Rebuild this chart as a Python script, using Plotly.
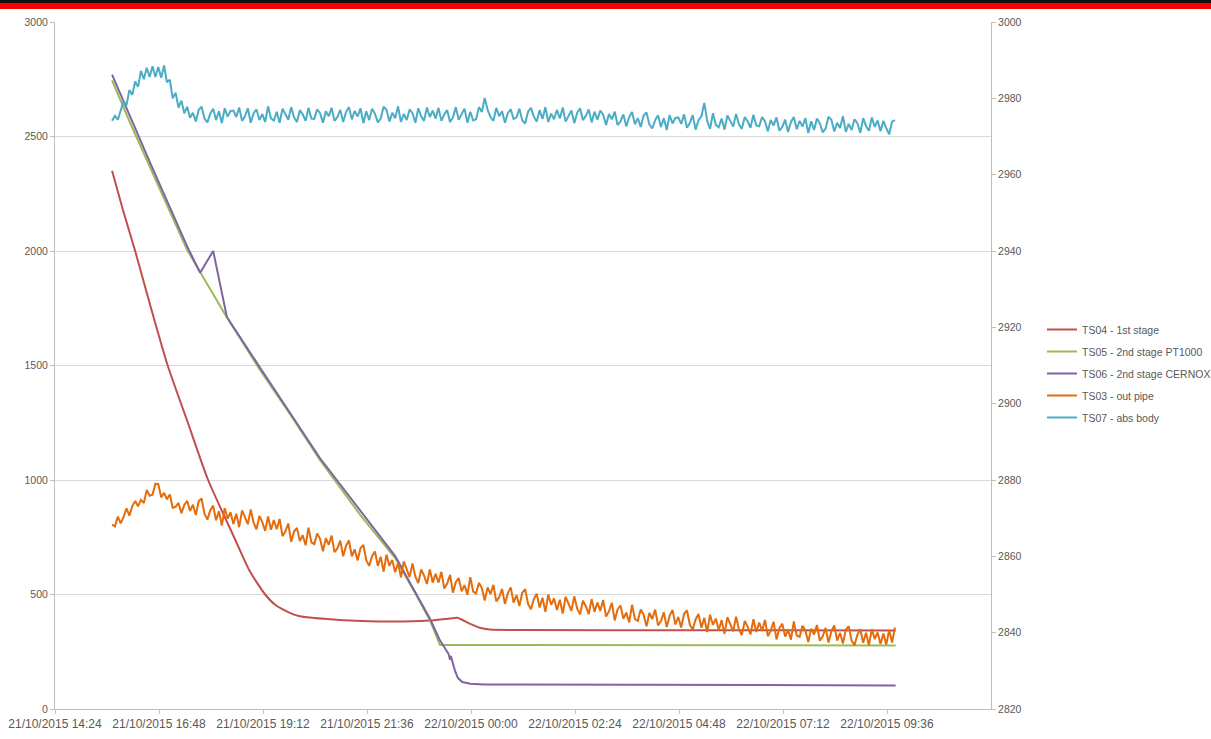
import pandas as pd
import plotly.graph_objects as go

# ---- data ----------------------------------------------------------------
# TS04 - 1st stage
ts04_times = ["2015-10-21 15:43", "2015-10-21 15:58", "2015-10-21 16:15", "2015-10-21 16:37",
              "2015-10-21 17:00", "2015-10-21 17:28", "2015-10-21 17:56", "2015-10-21 18:32",
              "2015-10-21 18:54", "2015-10-21 19:15", "2015-10-21 19:29", "2015-10-21 19:49",
              "2015-10-21 20:03", "2015-10-21 20:45", "2015-10-21 21:54", "2015-10-21 23:03",
              "2015-10-21 23:31", "2015-10-21 23:41", "2015-10-21 23:59", "2015-10-22 00:12",
              "2015-10-22 00:26", "2015-10-22 01:08", "2015-10-22 05:00", "2015-10-22 09:48"]
ts04 = [2350, 2180, 2000, 1750, 1500, 1250, 1000, 750, 600, 500, 455, 420,
        405, 392, 382, 386, 395, 398, 372, 355, 347, 345, 344, 343]

# TS05 - 2nd stage PT1000
ts05_times = ["2015-10-21 15:43", "2015-10-21 16:08", "2015-10-21 16:35", "2015-10-21 17:27",
              "2015-10-21 18:22", "2015-10-21 19:08", "2015-10-21 19:49", "2015-10-21 20:31",
              "2015-10-21 21:26", "2015-10-21 22:15", "2015-10-21 22:42", "2015-10-21 23:03",
              "2015-10-21 23:17", "2015-10-22 09:48"]
ts05 = [2745, 2560, 2370, 2004, 1710, 1480, 1290, 1087, 850, 659, 510, 389, 280, 277]

# TS06 - 2nd stage CERNOX
ts06_times = ["2015-10-21 15:43", "2015-10-21 16:35", "2015-10-21 17:27", "2015-10-21 17:45",
              "2015-10-21 18:03", "2015-10-21 18:22", "2015-10-21 19:08", "2015-10-21 20:31",
              "2015-10-21 22:15", "2015-10-21 23:03", "2015-10-21 23:17", "2015-10-21 23:29",
              "2015-10-21 23:31", "2015-10-21 23:32", "2015-10-21 23:38", "2015-10-21 23:42",
              "2015-10-21 23:48", "2015-10-21 23:59", "2015-10-22 00:19", "2015-10-22 03:00",
              "2015-10-22 09:48"]
ts06 = [2770, 2390, 2020, 1905, 2000, 1712, 1490, 1095, 668, 395, 300, 240,
        215, 232, 165, 135, 118, 110, 107, 106, 103]

# TS03 - out pipe and TS07 - abs body, logged every 4 minutes from 15:43
log_start = "2015-10-21 15:43"
log_step = "4min"
ts03 = [805, 797, 840, 811, 839, 876, 844, 886, 908, 885, 913, 899, 957, 931,
        936, 983, 982, 924, 944, 916, 937, 879, 883, 900, 855, 891, 909, 865,
        892, 847, 907, 919, 852, 827, 868, 888, 824, 864, 801, 877, 831, 859,
        808, 853, 794, 867, 838, 807, 871, 814, 785, 843, 816, 778, 841, 783,
        825, 785, 830, 755, 775, 810, 730, 775, 791, 733, 759, 715, 792, 728,
        720, 766, 743, 689, 746, 717, 757, 685, 701, 735, 667, 713, 736, 667,
        697, 648, 703, 716, 650, 625, 667, 688, 625, 665, 600, 674, 625, 651,
        597, 638, 575, 644, 611, 576, 636, 578, 550, 609, 582, 546, 609, 552,
        590, 552, 599, 526, 548, 586, 508, 555, 572, 514, 541, 499, 576, 513,
        505, 551, 528, 474, 531, 502, 542, 470, 488, 524, 459, 506, 531, 465,
        497, 450, 508, 523, 459, 436, 480, 503, 443, 486, 424, 500, 455, 483,
        432, 477, 417, 490, 460, 429, 492, 438, 413, 473, 449, 414, 480, 424,
        465, 428, 476, 404, 426, 464, 387, 435, 452, 394, 421, 378, 455, 393,
        385, 434, 412, 361, 419, 393, 434, 365, 384, 422, 358, 407, 433, 369,
        402, 356, 415, 431, 368, 347, 391, 415, 355, 398, 336, 412, 367, 395,
        344, 388, 328, 401, 371, 339, 403, 348, 323, 384, 360, 326, 392, 336,
        377, 341, 389, 318, 342, 381, 304, 353, 372, 316, 345, 303, 382, 321,
        315, 364, 343, 292, 351, 325, 367, 298, 317, 354, 290, 339, 365, 299,
        332, 286, 346, 362, 299, 279, 324, 348, 289, 333, 278, 349, 305, 334,
        284, 330, 281, 345, 290, 356]
ts07 = [2974.1, 2975.4, 2974.4, 2977.2, 2979.3, 2978.2, 2982.2, 2980.9, 2984.4, 2983.0, 2987.2, 2985.0, 2988.0, 2985.6,
        2988.4, 2985.6, 2988.2, 2985.4, 2988.6, 2984.2, 2984.9, 2980.0, 2981.5, 2977.6, 2979.4, 2976.1, 2977.8, 2974.9,
        2976.2, 2973.9, 2977.0, 2977.8, 2974.7, 2973.7, 2976.0, 2977.3, 2974.3, 2976.6, 2973.5, 2977.4, 2975.2, 2976.7,
        2976.8, 2975.1, 2977.6, 2974.1, 2975.3, 2977.4, 2973.6, 2976.1, 2977.1, 2974.3, 2975.9, 2973.8, 2977.9, 2974.8,
        2974.2, 2976.5, 2973.6, 2977.3, 2975.9, 2974.4, 2977.7, 2975.0, 2973.8, 2976.9, 2975.8, 2974.1, 2977.5, 2974.7,
        2974.6, 2977.1, 2976.1, 2973.6, 2976.6, 2975.3, 2977.5, 2974.1, 2975.1, 2977.0, 2973.8, 2976.4, 2977.7, 2974.5,
        2976.7, 2975.2, 2977.4, 2973.5, 2976.6, 2974.3, 2977.3, 2976.0, 2973.7, 2974.7, 2977.8, 2977.0, 2973.9, 2976.2,
        2974.8, 2977.9, 2973.8, 2975.9, 2974.3, 2977.1, 2976.1, 2973.6, 2977.4, 2975.3, 2974.1, 2977.6, 2975.1, 2976.8,
        2974.7, 2977.5, 2974.1, 2975.8, 2976.9, 2973.8, 2975.0, 2977.7, 2974.4, 2975.9, 2977.3, 2973.6, 2976.5, 2974.2,
        2974.5, 2977.7, 2976.4, 2980.1, 2977.0, 2975.1, 2974.1, 2977.5, 2975.3, 2976.6, 2973.6, 2976.1, 2977.1, 2974.6,
        2975.0, 2977.3, 2974.2, 2973.4, 2976.5, 2977.5, 2975.2, 2973.9, 2976.9, 2974.6, 2977.7, 2973.8, 2976.0, 2974.5,
        2977.0, 2974.7, 2977.6, 2973.9, 2975.3, 2976.8, 2973.5, 2976.2, 2977.4, 2974.3, 2975.4, 2977.1, 2973.7, 2976.5,
        2974.4, 2976.8, 2975.7, 2973.0, 2975.9, 2974.5, 2976.5, 2973.0, 2974.0, 2975.8, 2972.6, 2975.1, 2976.4, 2973.2,
        2974.8, 2972.5, 2975.5, 2976.3, 2973.1, 2972.1, 2974.3, 2975.6, 2972.5, 2974.8, 2971.7, 2975.6, 2973.4, 2974.9,
        2975.0, 2973.3, 2975.8, 2972.3, 2973.5, 2975.6, 2971.8, 2974.3, 2975.3, 2978.8, 2974.1, 2972.0, 2976.1, 2973.0,
        2972.4, 2974.7, 2971.8, 2975.5, 2974.1, 2972.6, 2975.9, 2973.2, 2972.0, 2975.1, 2974.0, 2972.3, 2975.7, 2972.9,
        2972.7, 2975.1, 2974.0, 2971.4, 2974.3, 2972.9, 2975.0, 2971.5, 2972.5, 2974.4, 2971.2, 2973.8, 2975.1, 2971.9,
        2974.1, 2972.6, 2974.8, 2970.9, 2974.0, 2971.7, 2974.7, 2973.4, 2971.1, 2972.1, 2975.2, 2974.4, 2971.3, 2973.6,
        2972.2, 2975.3, 2971.2, 2973.3, 2971.7, 2974.5, 2973.5, 2971.0, 2974.8, 2972.7, 2971.5, 2975.0, 2972.5, 2974.2,
        2971.4, 2974.1, 2972.2, 2970.6, 2973.9, 2974.3]

x_ticks = ["2015-10-21 14:24", "2015-10-21 16:48", "2015-10-21 19:12", "2015-10-21 21:36",
           "2015-10-22 00:00", "2015-10-22 02:24", "2015-10-22 04:48", "2015-10-22 07:12",
           "2015-10-22 09:36"]
x_range = ["2015-10-21 14:24", "2015-10-22 12:00"]

# ---- styling -------------------------------------------------------------
FONT = "Liberation Sans, Arial, sans-serif"
TXT = "#595959"
GRID = "#D9D9D9"
AXIS = "#BFBFBF"

W, H = 1211, 739
ML, MR, MT, MB = 55, 220, 22, 30
PW, PH = W - ML - MR, H - MT - MB

log_times = pd.date_range(log_start, periods=len(ts03), freq=log_step)

fig = go.Figure()
fig.add_trace(go.Scatter(x=pd.to_datetime(ts04_times), y=ts04, name="TS04 - 1st stage",
                         mode="lines", line=dict(color="#C0504D", width=2, shape="spline", smoothing=0.6),
                         legendgroup="a"))
fig.add_trace(go.Scatter(x=pd.to_datetime(ts05_times), y=ts05, name="TS05 - 2nd stage PT1000",
                         mode="lines", line=dict(color="#9BBB59", width=2), legendgroup="b"))
fig.add_trace(go.Scatter(x=pd.to_datetime(ts06_times), y=ts06, name="TS06 - 2nd stage CERNOX",
                         mode="lines", line=dict(color="#8064A2", width=2), legendgroup="c"))
fig.add_trace(go.Scatter(x=log_times, y=ts03, name="TS03 - out pipe",
                         mode="lines", line=dict(color="#E46C0A", width=2), legendgroup="d"))
fig.add_trace(go.Scatter(x=log_times, y=ts07, name="TS07 - abs body", yaxis="y2",
                         mode="lines", line=dict(color="#4BACC6", width=2), legendgroup="e"))

# header band across the top of the page
px_x = lambda p: (p - ML) / PW
px_y = lambda p: (H - MB - p) / PH
fig.add_shape(type="rect", xref="paper", yref="paper", x0=px_x(0), x1=px_x(W),
              y0=px_y(3), y1=px_y(0), fillcolor="#111111", line_width=0, layer="above")
fig.add_shape(type="rect", xref="paper", yref="paper", x0=px_x(0), x1=px_x(W),
              y0=px_y(9), y1=px_y(3), fillcolor="#FF0000", line_width=0, layer="above")

fig.update_layout(
    width=W, height=H,
    margin=dict(l=ML, r=MR, t=MT, b=MB, pad=0, autoexpand=False),
    paper_bgcolor="white", plot_bgcolor="white",
    font=dict(family=FONT, size=11, color=TXT),
    showlegend=True,
    legend=dict(x=px_x(1042), y=px_y(315), xanchor="left", yanchor="top",
                font=dict(family=FONT, size=10.5, color=TXT), tracegroupgap=3,
                bgcolor="rgba(0,0,0,0)"),
    xaxis=dict(type="date", range=x_range, tickvals=x_ticks, tickformat="%d/%m/%Y %H:%M",
               showgrid=False, showline=True, linecolor=AXIS, linewidth=1,
               ticks="outside", ticklen=4, tickcolor=AXIS, zeroline=False,
               tickfont=dict(family=FONT, size=12, color=TXT)),
    yaxis=dict(range=[0, 3000], dtick=500, showgrid=True, gridcolor=GRID, gridwidth=1,
               showline=True, linecolor=AXIS, ticks="outside", ticklen=4, tickcolor=AXIS,
               zeroline=False, tickfont=dict(family=FONT, size=10.5, color=TXT)),
    yaxis2=dict(range=[2820, 3000], dtick=20, overlaying="y", side="right", showgrid=False,
                showline=True, linecolor=AXIS, ticks="outside", ticklen=4, tickcolor=AXIS,
                zeroline=False, tickfont=dict(family=FONT, size=10.5, color=TXT)),
)

fig.write_html("out.html")
